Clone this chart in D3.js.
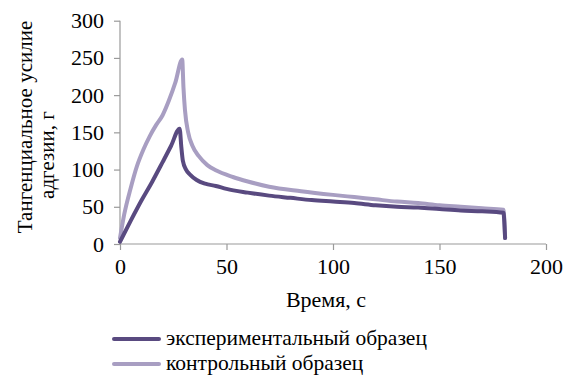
<!DOCTYPE html>
<html>
<head>
<meta charset="utf-8">
<script src="https://cdn.jsdelivr.net/npm/d3@7"></script>
<style>
  body { margin: 0; background: #fff; }
  svg text { font-family: "Liberation Serif", "Times New Roman", Times, serif; fill: #000; }
</style>
</head>
<body>
<div id="container"></div>
<script>
// time, s
const expTime = [0, 5, 10, 15, 20, 24, 28, 28.8, 29.5, 31, 33, 36, 40, 45, 50, 60, 70, 80, 90, 100, 110, 120, 130, 140, 150, 160, 170, 180, 180.8]
const expForce = [3, 31, 58, 83, 110, 132, 155, 130, 112, 100, 93, 86, 81, 78, 74, 69, 65, 62, 59, 57, 55, 52, 50, 49, 47, 45, 44, 42, 8]

const ctrlTime = [0, 2, 5, 8, 11, 14, 17, 20, 23, 26, 29.2, 29.8, 30.5, 32, 34, 37, 41, 45, 53, 60, 70, 85, 100, 110, 120, 130, 140, 150, 160, 170, 180, 180.8]
const ctrlForce = [8, 40, 75, 105, 127, 145, 160, 173, 193, 217, 248, 210, 180, 150, 132, 118, 106, 99, 90, 84, 77, 71, 66, 63, 60, 57, 55, 52, 50, 48, 46, 8]

const xTicks = [0, 50, 100, 150, 200]
const yTicks = [0, 50, 100, 150, 200, 250, 300]

const seriesNames = ["экспериментальный образец", "контрольный образец"]
const seriesColors = ["#594a80", "#a89ec2"]

const width = 565, height = 376
const svg = d3.select('#container').append('svg')
    .attr('width', width).attr('height', height)

const x = d3.scaleLinear().domain([0, 200]).range([120, 546])
const y = d3.scaleLinear().domain([0, 300]).range([244, 20.7])

// axes
const xAxis = svg.append("g")
    .attr("transform", `translate(0,${y(0)})`)
    .call(d3.axisBottom(x).tickValues(xTicks).tickSize(6).tickPadding(8))
const yAxis = svg.append("g")
    .attr("transform", `translate(${x(0)},0)`)
    .call(d3.axisLeft(y).tickValues(yTicks).tickSize(6).tickPadding(10))

for (const ax of [xAxis, yAxis]) {
    ax.attr("font-family", null).attr("font-size", 22)
    ax.selectAll("path, line").attr("stroke", "#9a9a9a").attr("stroke-width", 1.2)
    ax.selectAll("text").attr("fill", "#000")
}
xAxis.select(".domain").attr("d", `M${x(0)},0H${x(200)}`)
yAxis.select(".domain").attr("d", `M0,${y(0)}V${y(300)}`)

// lines
const line = d3.line().x(d => x(d[0])).y(d => y(d[1])).curve(d3.curveMonotoneX)
const expData = expTime.map((t, i) => [t, expForce[i]])
const ctrlData = ctrlTime.map((t, i) => [t, ctrlForce[i]])

svg.append("path").datum(ctrlData)
    .attr("d", line)
    .attr("fill", "none")
    .attr("stroke", seriesColors[1])
    .attr("stroke-width", 4)
    .attr("stroke-linejoin", "round")
    .attr("stroke-linecap", "round")
svg.append("path").datum(expData)
    .attr("d", line)
    .attr("fill", "none")
    .attr("stroke", seriesColors[0])
    .attr("stroke-width", 4)
    .attr("stroke-linejoin", "round")
    .attr("stroke-linecap", "round")

// axis titles
svg.append("text")
    .attr("x", 326).attr("y", 307)
    .attr("text-anchor", "middle")
    .attr("font-size", 22)
    .text("Время, с")

svg.append("text")
    .attr("transform", "translate(32,127) rotate(-90)")
    .attr("text-anchor", "middle")
    .attr("font-size", 21)
    .text("Тангенциальное усилие")
svg.append("text")
    .attr("transform", "translate(54,155) rotate(-90)")
    .attr("text-anchor", "middle")
    .attr("font-size", 21)
    .text("адгезии, г")

// legend
const legend = svg.append("g")
seriesNames.forEach((name, i) => {
    const ly = 339 + i * 25
    legend.append("line")
        .attr("x1", 114).attr("x2", 159)
        .attr("y1", ly).attr("y2", ly)
        .attr("stroke", seriesColors[i])
        .attr("stroke-width", 4)
        .attr("stroke-linecap", "round")
    legend.append("text")
        .attr("x", 166).attr("y", ly + 6)
        .attr("font-size", 21.5)
        .text(name)
})
</script>
</body>
</html>
